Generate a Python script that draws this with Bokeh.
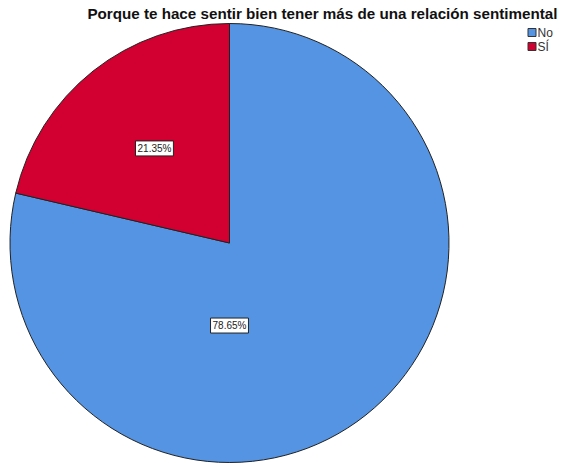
import math
from bokeh.plotting import figure
from bokeh.models import Range1d, ColumnDataSource
from bokeh.core.properties import value
from bokeh.embed import file_html
from bokeh.resources import INLINE

title = "Porque te hace sentir bien tener más de una relación sentimental"
categories = ["No", "SÍ"]
percents = [78.65, 21.35]
colors = ["#5494E2", "#D20030"]
labels = ["78.65%", "21.35%"]

W, H = 561, 463
p = figure(width=W, height=H, output_backend="svg", toolbar_location=None,
           x_range=Range1d(0, W), y_range=Range1d(0, H),
           min_border=0, outline_line_color=None)
p.axis.visible = False
p.grid.visible = False
p.background_fill_color = "white"
p.border_fill_color = "white"

def Y(yimg):
    return 463 - yimg

cx, cy, r = 229, Y(242.5), 219.5

# wedges, clockwise from 12 o'clock
total = sum(percents)
starts, ends = [], []
acc = 0.0
for v in percents:
    a0 = math.pi / 2 - 2 * math.pi * acc / total
    acc += v
    a1 = math.pi / 2 - 2 * math.pi * acc / total
    starts.append(a0)
    ends.append(a1)

src = ColumnDataSource(dict(start=starts, end=ends, color=colors, cat=categories))
p.wedge(x=cx, y=cy, radius=r, start_angle="start", end_angle="end", direction="clock",
        fill_color="color", line_color="#222222", line_width=1, source=src)

# labels
lx, ly = [], []
mids = [(s + e) / 2 for s, e in zip(starts, ends)]
lx.append(cx)
ly.append(cy - 0.376 * r)
lx.append(cx + 0.55 * r * math.cos(mids[1]))
ly.append(cy + 0.55 * r * math.sin(mids[1]))
lsrc = ColumnDataSource(dict(x=lx, y=ly, t=labels))
p.text(x="x", y="y", text="t", source=lsrc, text_align="center", text_baseline="middle",
       text_font=value("Liberation Sans"), text_font_size="10px", text_color="#222222",
       background_fill_color="white", border_line_color="#222222", border_line_width=1,
       padding=2)

# title
p.text(x=[557], y=[Y(13)], text=[title], text_align="right", text_baseline="middle",
       text_font=value("Liberation Sans"), text_font_style="bold", text_font_size="15.2px",
       text_color="#111111")

# legend
leg_y = [Y(32), Y(46)]
p.rect(x=[531.5] * 2, y=leg_y, width=8, height=8, width_units="screen", height_units="screen",
       fill_color=colors, line_color="#333333", line_width=1)
p.text(x=[537] * 2, y=leg_y, text=categories, text_align="left", text_baseline="middle",
       text_font=value("Liberation Sans"), text_font_size="12px", text_color="#333333")

open("out.html", "w").write(file_html(p, INLINE))
